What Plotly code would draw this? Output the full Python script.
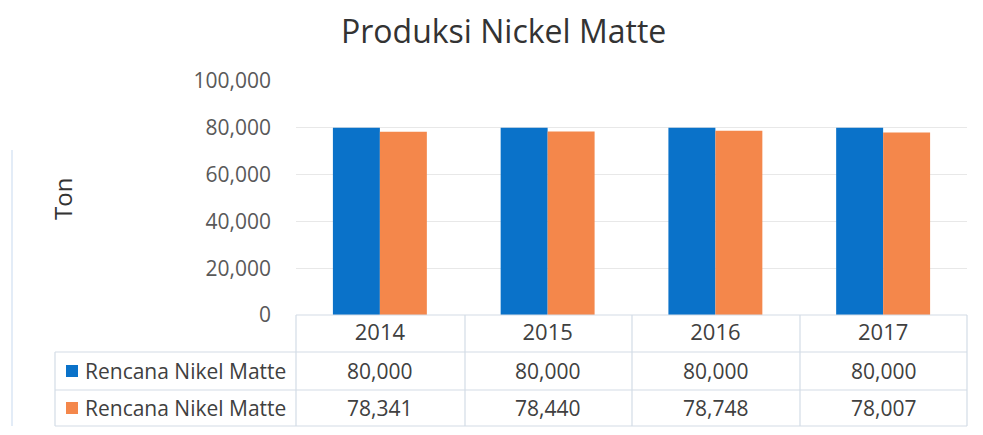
import plotly.graph_objects as go

years = ["2014", "2015", "2016", "2017"]
series_names = ["Rencana Nikel Matte", "Rencana Nikel Matte"]
rencana = [80000, 80000, 80000, 80000]
realisasi = [78341, 78440, 78748, 78007]
colors = ["#0A72C9", "#F4874B"]
y_ticks = [0, 20000, 40000, 60000, 80000, 100000]

# page body has an 8px margin, so the figure is shrunk and offset
OX, OY = 8, 8
W, H = 983 - 2 * OX, 435 - 2 * OY
PL, PR, PT, PB = 296, 967, 81, 315  # plot area in page pixels
L, R, T, B = PL - OX, (W + OX) - PR, PT - OY, (H + OY) - PB
pw, ph = W - L - R, H - T - B

def px(x):
    return (x - OX - L) / pw

def py(y):
    return (H - B - (y - OY)) / ph

fig = go.Figure()
for name, vals, c in zip(series_names, [rencana, realisasi], colors):
    fig.add_trace(go.Bar(x=years, y=vals, name=name, marker=dict(color=c, line=dict(width=0)),
                         showlegend=False))

font_family = "Open Sans, Liberation Sans, sans-serif"
txt_color = "#404040"

annotations = []
annotations.append(dict(text="Produksi Nickel Matte", x=px(503), y=py(30), xref="paper", yref="paper",
                        showarrow=False, font=dict(size=32, color="#333333", family=font_family),
                        xanchor="center", yanchor="middle"))
annotations.append(dict(text="Ton", x=px(62), y=py(199), xref="paper", yref="paper", textangle=-90,
                        showarrow=False, font=dict(size=24, color="#333333", family=font_family),
                        xanchor="center", yanchor="middle"))

row_y = [py(371), py(408)]
for r, (name, vals, c) in enumerate(zip(series_names, [rencana, realisasi], colors)):
    annotations.append(dict(text=name, x=px(83), y=row_y[r], xref="paper", yref="paper",
                            showarrow=False, xanchor="left", yanchor="middle",
                            font=dict(size=21, color=txt_color, family=font_family)))
    for i, v in enumerate(vals):
        annotations.append(dict(text=f"{v:,}", x=i, y=row_y[r], xref="x", yref="paper",
                                showarrow=False, xanchor="center", yanchor="middle",
                                font=dict(size=21, color=txt_color, family=font_family)))

shapes = []
line_c = "#D3DCE6"
for r, c in enumerate(colors):
    yc = [371, 408][r]
    shapes.append(dict(type="rect", xref="paper", yref="paper", x0=px(66), x1=px(78),
                       y0=py(yc - 6), y1=py(yc + 6), fillcolor=c, line=dict(width=0)))
for yl, x0 in [(315, 296), (352, 55), (390, 55), (426, 55)]:
    shapes.append(dict(type="line", xref="paper", yref="paper", x0=px(x0), x1=px(967),
                       y0=py(yl), y1=py(yl), line=dict(color=line_c, width=1.2)))
for xl in [296, 465, 632, 800, 967]:
    shapes.append(dict(type="line", xref="paper", yref="paper", x0=px(xl), x1=px(xl),
                       y0=py(315), y1=py(426), line=dict(color=line_c, width=1.2)))
shapes.append(dict(type="line", xref="paper", yref="paper", x0=px(55), x1=px(55),
                   y0=py(352), y1=py(426), line=dict(color=line_c, width=1.2)))
shapes.append(dict(type="line", xref="paper", yref="paper", x0=px(12), x1=px(12),
                   y0=py(150), y1=py(426), line=dict(color="#E3ECF7", width=2)))

fig.update_layout(
    width=W, height=H,
    margin=dict(l=L, r=R, t=T, b=B, pad=0),
    paper_bgcolor="white", plot_bgcolor="white",
    barmode="group", bargap=0.44, bargroupgap=0,
    annotations=annotations, shapes=shapes,
    font=dict(family=font_family, color=txt_color),
)
fig.update_xaxes(type="category", range=[-0.5, 3.5], showgrid=False, showline=False, zeroline=False,
                 ticks="", tickfont=dict(size=22, color=txt_color, family=font_family),
                 ticklabelstandoff=2)
fig.update_yaxes(range=[0, 100000], tickvals=y_ticks, tickformat=",", showgrid=True,
                 gridcolor="#E8E8E8", gridwidth=1, zeroline=False, showline=False, ticks="",
                 tickfont=dict(size=21, color="#595959", family=font_family), ticklabelstandoff=24)

fig.write_html("out.html")
